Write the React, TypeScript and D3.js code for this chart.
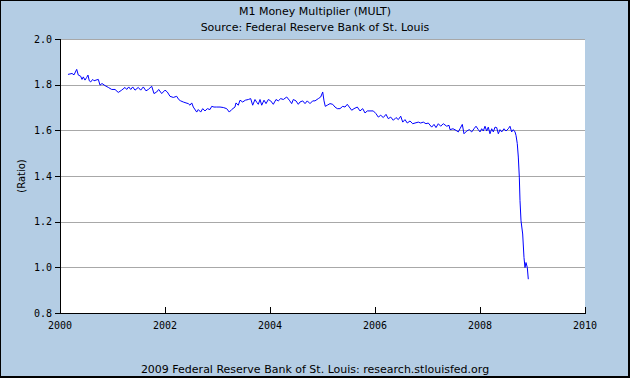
import React from "react";
import * as d3 from "d3";

const years: number[] = [
  2000.152, 2000.229, 2000.267, 2000.318, 2000.349, 2000.394, 2000.419, 2000.444, 2000.476, 2000.509,
  2000.533, 2000.558, 2000.585, 2000.623, 2000.648, 2000.686, 2000.730, 2000.762, 2000.800, 2000.857,
  2000.920, 2000.985, 2001.048, 2001.110, 2001.175, 2001.238, 2001.270, 2001.309, 2001.347, 2001.385,
  2001.429, 2001.491, 2001.537, 2001.587, 2001.638, 2001.682, 2001.747, 2001.790, 2001.842, 2001.880,
  2001.937, 2002.000, 2002.044, 2002.095, 2002.158, 2002.223, 2002.261, 2002.299, 2002.349, 2002.400,
  2002.444, 2002.476, 2002.509, 2002.539, 2002.604, 2002.634, 2002.680, 2002.718, 2002.762, 2002.806,
  2002.857, 2002.890, 2002.933, 2002.985, 2003.048, 2003.110, 2003.175, 2003.225, 2003.270, 2003.333,
  2003.352, 2003.396, 2003.429, 2003.480, 2003.530, 2003.587, 2003.632, 2003.670, 2003.714, 2003.747,
  2003.777, 2003.810, 2003.842, 2003.886, 2003.924, 2003.968, 2004.013, 2004.063, 2004.114, 2004.158,
  2004.204, 2004.254, 2004.318, 2004.368, 2004.413, 2004.444, 2004.495, 2004.539, 2004.571, 2004.623,
  2004.667, 2004.710, 2004.762, 2004.813, 2004.857, 2004.920, 2004.966, 2005.004, 2005.029, 2005.053,
  2005.091, 2005.143, 2005.194, 2005.238, 2005.282, 2005.333, 2005.385, 2005.429, 2005.472, 2005.510,
  2005.556, 2005.600, 2005.663, 2005.714, 2005.766, 2005.810, 2005.853, 2005.905, 2005.968, 2006.019,
  2006.063, 2006.109, 2006.158, 2006.210, 2006.253, 2006.299, 2006.349, 2006.400, 2006.444, 2006.490,
  2006.528, 2006.571, 2006.615, 2006.667, 2006.718, 2006.762, 2006.825, 2006.870, 2006.920, 2006.971,
  2007.015, 2007.080, 2007.124, 2007.162, 2007.206, 2007.251, 2007.301, 2007.366, 2007.410, 2007.429,
  2007.486, 2007.543, 2007.587, 2007.619, 2007.663, 2007.695, 2007.747, 2007.796, 2007.842, 2007.886,
  2007.924, 2007.968, 2008.000, 2008.032, 2008.063, 2008.095, 2008.127, 2008.158, 2008.190, 2008.223,
  2008.254, 2008.286, 2008.318, 2008.349, 2008.381, 2008.413, 2008.457, 2008.495, 2008.539, 2008.571,
  2008.603, 2008.634, 2008.667, 2008.686, 2008.710, 2008.730, 2008.749, 2008.762, 2008.781, 2008.813,
  2008.838, 2008.857, 2008.876, 2008.901, 2008.920,
];

const multiplier: number[] = [
  1.845, 1.849, 1.843, 1.867, 1.842, 1.837, 1.823, 1.834, 1.820, 1.832,
  1.842, 1.817, 1.812, 1.823, 1.817, 1.820, 1.823, 1.798, 1.805, 1.796,
  1.788, 1.779, 1.779, 1.766, 1.776, 1.788, 1.779, 1.790, 1.779, 1.790,
  1.776, 1.788, 1.776, 1.790, 1.773, 1.779, 1.793, 1.761, 1.768, 1.779,
  1.761, 1.776, 1.768, 1.749, 1.744, 1.749, 1.735, 1.729, 1.724, 1.720,
  1.717, 1.710, 1.720, 1.702, 1.680, 1.691, 1.680, 1.695, 1.685, 1.695,
  1.691, 1.705, 1.702, 1.702, 1.702, 1.700, 1.695, 1.680, 1.691, 1.702,
  1.720, 1.710, 1.732, 1.724, 1.732, 1.735, 1.739, 1.710, 1.735, 1.723,
  1.714, 1.735, 1.710, 1.732, 1.717, 1.735, 1.729, 1.714, 1.735, 1.729,
  1.739, 1.735, 1.746, 1.732, 1.717, 1.735, 1.729, 1.714, 1.724, 1.729,
  1.717, 1.729, 1.717, 1.729, 1.729, 1.739, 1.746, 1.768, 1.729, 1.705,
  1.710, 1.717, 1.714, 1.702, 1.695, 1.695, 1.705, 1.702, 1.714, 1.702,
  1.688, 1.695, 1.702, 1.685, 1.695, 1.676, 1.685, 1.685, 1.685, 1.673,
  1.658, 1.666, 1.656, 1.670, 1.651, 1.658, 1.644, 1.656, 1.647, 1.662,
  1.636, 1.647, 1.632, 1.641, 1.629, 1.632, 1.636, 1.632, 1.636, 1.629,
  1.632, 1.614, 1.626, 1.612, 1.629, 1.618, 1.629, 1.618, 1.622, 1.603,
  1.607, 1.600, 1.593, 1.607, 1.626, 1.585, 1.597, 1.603, 1.593, 1.607,
  1.618, 1.603, 1.593, 1.607, 1.597, 1.618, 1.597, 1.614, 1.585, 1.607,
  1.593, 1.614, 1.612, 1.585, 1.603, 1.593, 1.607, 1.597, 1.607, 1.618,
  1.593, 1.603, 1.593, 1.578, 1.542, 1.483, 1.395, 1.292, 1.204, 1.146,
  1.043, 0.999, 1.021, 0.999, 0.948,
];

const yTicks: number[] = [0.8, 1.0, 1.2, 1.4, 1.6, 1.8, 2.0];
const xTicks: number[] = [2000, 2002, 2004, 2006, 2008, 2010];
const titleText = "M1 Money Multiplier (MULT)";
const subtitleText = "Source: Federal Reserve Bank of St. Louis";
const yLabel = "(Ratio)";
const footerText = "2009 Federal Reserve Bank of St. Louis: research.stlouisfed.org";

const W = 630;
const H = 378;
const L = 60;
const R = 585;
const T = 39;
const B = 313;

export default function App() {
  const x = d3.scaleLinear().domain([2000, 2010]).range([L, R]);
  const y = d3.scaleLinear().domain([0.8, 2.0]).range([B, T]);
  const data = years.map((yr, i) => [yr, multiplier[i]] as [number, number]);
  const line = d3
    .line<[number, number]>()
    .x((d) => x(d[0]))
    .y((d) => y(d[1]));
  const font = "'DejaVu Sans', Verdana, sans-serif";
  const mono = "'DejaVu Sans Mono', monospace";
  return (
    <svg
      width={W}
      height={H}
      style={{ position: "absolute", left: 0, top: 0, display: "block" }}
    >
      <rect x={0} y={0} width={W} height={H} fill="#B4CDE4" />
      <rect x={0} y={0} width={W} height={1} fill="#000" />
      <rect x={0} y={0} width={1} height={H} fill="#000" />
      <rect x={0} y={H - 2} width={W} height={2} fill="#000" />
      <rect x={W - 2} y={0} width={2} height={H} fill="#000" />
      <text x={315} y={15} textAnchor="middle" fontFamily={font} fontSize={11} fill="#000">
        {titleText}
      </text>
      <text x={315} y={31} textAnchor="middle" fontFamily={font} fontSize={11} fill="#000">
        {subtitleText}
      </text>
      <rect x={L} y={T} width={R - L} height={B - T} fill="#fff" />
      {yTicks.map((t) => (
        <g key={"y" + t}>
          {t > 0.85 && (
            <line x1={L} x2={R} y1={Math.round(y(t)) + 0.5} y2={Math.round(y(t)) + 0.5} stroke="#A8A8A8" />
          )}
          <line x1={L - 5} x2={L} y1={Math.round(y(t)) + 0.5} y2={Math.round(y(t)) + 0.5} stroke="#000" />
          <text
            x={L - 8}
            y={y(t)}
            dy="0.35em"
            textAnchor="end"
            fontFamily={mono}
            fontSize={10}
            fill="#000"
          >
            {t.toFixed(1)}
          </text>
        </g>
      ))}
      <path d={line(data) ?? ""} fill="none" stroke="#0000FF" strokeWidth={1} />
      <line x1={L + 0.5} x2={L + 0.5} y1={T} y2={B + 0.5} stroke="#000" />
      <line x1={L} x2={R + 1} y1={B + 0.5} y2={B + 0.5} stroke="#000" />
      {xTicks.map((t) => (
        <g key={"x" + t}>
          <line
            x1={Math.round(x(t)) + 0.5}
            x2={Math.round(x(t)) + 0.5}
            y1={B}
            y2={B - 6}
            stroke="#000"
          />
          <text x={x(t)} y={329} textAnchor="middle" fontFamily={mono} fontSize={10} fill="#000">
            {t}
          </text>
        </g>
      ))}
      <text
        transform={`translate(25, ${(T + B) / 2}) rotate(-90)`}
        textAnchor="middle"
        fontFamily={font}
        fontSize={10}
        fill="#000"
      >
        {yLabel}
      </text>
      <text x={315} y={373} textAnchor="middle" fontFamily={font} fontSize={11} fill="#000">
        {footerText}
      </text>
    </svg>
  );
}
